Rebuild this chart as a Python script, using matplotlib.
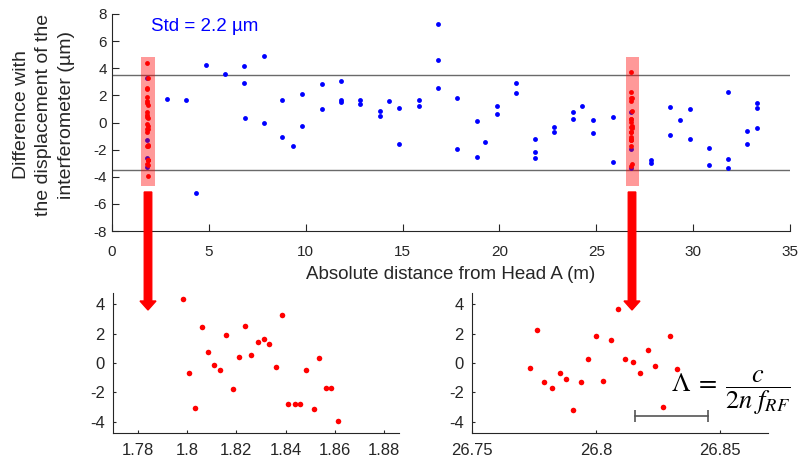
import matplotlib
matplotlib.use("Agg")
import matplotlib.pyplot as plt
from matplotlib.patches import Rectangle, FancyArrow

plt.rcParams["font.family"] = ["Liberation Sans", "DejaVu Sans"]
plt.rcParams["mathtext.fontset"] = "stix"
plt.rcParams["axes.unicode_minus"] = False

# main plot: difference vs distance (blue)
dist = [1.83, 1.83, 1.83, 1.83, 2.86, 3.84, 4.34, 4.85, 5.83, 6.83, 6.83, 6.85,
        7.83, 7.83, 8.8, 8.8, 9.33, 9.83, 9.83, 10.86, 10.86, 11.82, 11.82, 11.82,
        12.79, 12.79, 13.82, 13.82, 14.28, 14.83, 14.83, 15.85, 15.85, 16.81, 16.84,
        16.84, 17.79, 17.79, 18.83, 18.83, 19.27, 19.86, 19.86, 20.84, 20.84, 21.82,
        21.82, 21.82, 22.8, 22.8, 23.82, 23.82, 24.28, 24.82, 24.82, 25.86, 25.86,
        26.81, 26.81, 26.81, 27.83, 27.83, 28.79, 28.79, 29.34, 29.82, 29.82, 30.84,
        30.84, 31.78, 31.78, 31.78, 32.8, 32.8, 33.32, 33.32, 33.32]
diff = [3.25, -1.3, -2.65, -3.3, 1.73, 1.64, -5.2, 4.24, 3.58, 4.19, 2.94, 0.33,
        4.93, -0.04, 1.66, -1.07, -1.73, 2.1, -0.26, 2.84, 1.02, 3.04, 1.68, 1.51,
        1.66, 1.36, 0.85, 0.48, 1.56, 1.07, -1.59, 1.66, 1.22, 2.52, 4.63,
        7.29, 1.78, -1.95, 0.11, -2.54, -1.46, 1.22, 0.63, 2.94, 2.2, -1.24,
        -2.15, -2.6, -0.33, -0.68, 0.77, 0.26, 1.24, 0.18, -0.77, 0.38, -2.89,
        0.75, -1.95, -3.35, -2.77, -2.96, 1.17, -0.95, 0.18, 1.0, -1.24, -1.86,
        -3.16, 2.25, -2.69, -3.33, -0.6, -1.56, 1.41, 1.09, -0.41]

# zoom around 1.8 m (red)
dist_a = [1.7983, 1.8009, 1.8033, 1.8059, 1.8085, 1.8109, 1.8133, 1.8159, 1.8185,
          1.8211, 1.8236, 1.8261, 1.8288, 1.8312, 1.8334, 1.8361, 1.8387, 1.8411,
          1.8439, 1.8460, 1.8484, 1.8514, 1.8534, 1.8563, 1.8586, 1.8613]
diff_a = [4.36, -0.71, -3.07, 2.47, 0.77, -0.14, -0.46, 1.91, -1.75,
          0.38, 2.54, 0.52, 1.45, 1.61, 1.27, -0.25, 3.31, -2.77,
          -2.77, -2.77, -0.50, -3.16, 0.36, -1.68, -1.73, -3.93]

# zoom around 26.8 m (red)
dist_b = [26.7731, 26.7761, 26.7790, 26.7821, 26.7852, 26.7879, 26.7908, 26.7940,
          26.7969, 26.7999, 26.8028, 26.8058, 26.8089, 26.8118, 26.8148, 26.8177,
          26.8208, 26.8238, 26.8269, 26.8298, 26.8327]
diff_b = [-0.34, 2.27, -1.30, -1.71, -0.68, -1.09, -3.23, -1.27,
          0.27, 1.81, -1.23, 1.57, 3.70, 0.25, 0.07, -0.68,
          0.86, -0.23, -3.03, 1.81, -0.41]

std_lim = 3.5
bar_x = [26.8158, 26.8450]
bar_y = -3.6

dark = "#262626"

fig = plt.figure(figsize=(8, 4.59), dpi=100)

ax = fig.add_axes([0.14, 0.4967, 0.8475, 0.4728])
ax.plot(dist, diff, "o", color="blue", ms=3.5, mec="none", zorder=2)
ax.axhline(std_lim, color="#6a6a6a", lw=1.0, zorder=1)
ax.axhline(-std_lim, color="#6a6a6a", lw=1.0, zorder=1)
for x0, x1 in [(1.51, 2.22), (26.52, 27.2)]:
    ax.add_patch(Rectangle((x0, -4.66), x1 - x0, 9.49, facecolor="red",
                           alpha=0.4, edgecolor="none", zorder=3))
ax.plot(dist_a, diff_a, "o", color="red", ms=3.5, mec="none", zorder=4)
ax.plot(dist_b, diff_b, "o", color="red", ms=3.5, mec="none", zorder=4)
ax.set_xlim(0, 35)
ax.set_ylim(-8, 8)
ax.set_xticks(range(0, 36, 5))
ax.set_yticks(range(-8, 9, 2))
ax.set_xlabel("Absolute distance from Head A (m)", fontsize=13.5, color=dark, labelpad=5)
ax.text(2.0, 7.1, "Std = 2.2 µm", color="blue", fontsize=13.5, ha="left", va="center")
fig.text(44 / 800, 1 - 115 / 459,
         "Difference with\nthe displacement of the\ninterferometer (µm)",
         rotation=90, ha="center", va="center", fontsize=14, color=dark,
         multialignment="center", linespacing=1.45)

for s in ["top", "right"]:
    ax.spines[s].set_visible(False)
for s in ["left", "bottom"]:
    ax.spines[s].set_color(dark)
ax.tick_params(direction="in", length=5, width=0.8, colors=dark, labelsize=11)
ax.tick_params(axis="x", pad=10)

ax_a = fig.add_axes([0.1416, 0.056, 0.357, 0.3063])
ax_a.plot(dist_a, diff_a, "o", color="red", ms=4, mec="none")
ax_a.set_xlim(1.77, 1.886)
ax_a.set_ylim(-4.8, 4.8)
ax_a.set_xticks([1.78, 1.80, 1.82, 1.84, 1.86, 1.88])
ax_a.set_xticklabels(["1.78", "1.8", "1.82", "1.84", "1.86", "1.88"])
ax_a.set_yticks([-4, -2, 0, 2, 4])

ax_b = fig.add_axes([0.5904, 0.056, 0.37, 0.3063])
ax_b.plot(dist_b, diff_b, "o", color="red", ms=4, mec="none")
ax_b.plot(bar_x, [bar_y, bar_y], "-", color="#555555", lw=1.2, marker="|", ms=9, mew=1.2)
ax_b.set_xlim(26.75, 26.8695)
ax_b.set_ylim(-4.8, 4.8)
ax_b.set_xticks([26.75, 26.8, 26.85])
ax_b.set_xticklabels(["26.75", "26.8", "26.85"])
ax_b.set_yticks([-4, -2, 0, 2, 4])

for a in [ax_a, ax_b]:
    for s in ["top", "right"]:
        a.spines[s].set_visible(False)
    for s in ["left", "bottom"]:
        a.spines[s].set_color(dark)
    a.tick_params(direction="in", length=2, width=0.8, colors=dark, labelsize=12, pad=6)
    a.tick_params(axis="x", pad=7)

fig.text(731 / 800, 1 - 393 / 459, r"$\Lambda\;=\;\dfrac{c}{2n\;f_{RF}}$",
         ha="center", va="center", fontsize=19, color="black")

for xp in [148, 632]:
    fig.patches.append(FancyArrow(xp / 100, (459 - 192) / 100, 0, -1.18,
                                  width=0.075, head_width=0.16, head_length=0.09,
                                  length_includes_head=True, color="red",
                                  transform=fig.dpi_scale_trans, figure=fig))

fig.savefig("out.png", dpi=100)
